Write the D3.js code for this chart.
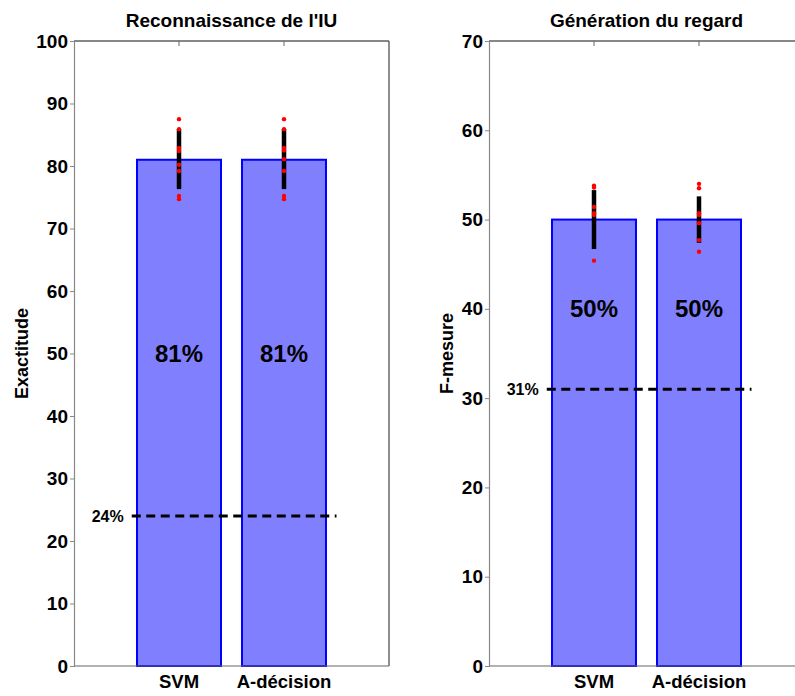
<!DOCTYPE html>
<html>
<head>
<meta charset="utf-8">
<script src="https://cdn.jsdelivr.net/npm/d3@7"></script>
<style>
  html, body { margin: 0; padding: 0; background: #fff; }
  svg { display: block; font-family: "Liberation Sans", Arial, Helvetica, sans-serif; }
</style>
</head>
<body>
<svg id="chart" width="795" height="696"></svg>
<script>
// ---------- data ----------
const categories = ["SVM", "A-décision"];

const uiTitle = "Reconnaissance de l'IU";
const uiYLabel = "Exactitude";
const uiYTicks = [0, 10, 20, 30, 40, 50, 60, 70, 80, 90, 100];
const uiMeans = [81, 81];
const uiErrLow = [76.3, 76.3];
const uiErrHigh = [85.9, 85.9];
const uiPointsSVM = [87.5, 85.9, 82.9, 82.4, 80.2, 79.2, 75.2, 74.7];
const uiPointsTree = [87.5, 85.9, 82.9, 82.5, 81.1, 79.2, 75.2, 74.7];
const uiBaseline = 24;

const gazeTitle = "Génération du regard";
const gazeYLabel = "F-mesure";
const gazeYTicks = [0, 10, 20, 30, 40, 50, 60, 70];
const gazeMeans = [50, 50];
const gazeErrLow = [46.7, 47.4];
const gazeErrHigh = [53.3, 52.6];
const gazePointsSVM = [53.8, 53.6, 51.4, 50.7, 50.5, 45.4];
const gazePointsTree = [54.0, 53.5, 50.7, 50.5, 49.6, 47.7, 46.4];
const gazeBaseline = 31;

// ---------- drawing ----------
const svg = d3.select("#chart");

function drawPanel(p) {
  const g = svg.append("g");
  const x = d3.scaleLinear().domain([0, 3]).range([p.left, p.left + 315]);
  const y = d3.scaleLinear().domain([0, p.yMax]).range([666, 41]);
  const bw = 0.8;

  // bars
  g.selectAll("rect.bar").data(p.means).enter().append("rect")
    .attr("x", (d, i) => x(i + 1 - bw / 2))
    .attr("y", d => y(d))
    .attr("width", x(bw) - x(0))
    .attr("height", d => y(0) - y(d))
    .attr("fill", "#8080ff")
    .attr("stroke", "#0000ff")
    .attr("stroke-width", 2);

  // percentage labels inside bars
  g.selectAll("text.pct").data(p.means).enter().append("text")
    .attr("x", (d, i) => x(i + 1))
    .attr("y", y(p.labelAt))
    .attr("dy", "0.36em")
    .attr("text-anchor", "middle")
    .attr("font-weight", "bold")
    .attr("font-size", 24)
    .text(d => d + "%");

  // error bars (black thick)
  g.selectAll("line.err").data(p.means).enter().append("line")
    .attr("x1", (d, i) => x(i + 1))
    .attr("x2", (d, i) => x(i + 1))
    .attr("y1", (d, i) => y(p.errLow[i]))
    .attr("y2", (d, i) => y(p.errHigh[i]))
    .attr("stroke", "#000")
    .attr("stroke-width", 4.5);

  // red points
  p.points.forEach((pts, i) => {
    g.selectAll(null).data(pts).enter().append("circle")
      .attr("cx", x(i + 1))
      .attr("cy", d => y(d))
      .attr("r", 2.2)
      .attr("fill", "#ff0000");
  });

  // baseline dashed line
  g.append("line")
    .attr("x1", x(0.55)).attr("x2", x(2.5))
    .attr("y1", y(p.baseline)).attr("y2", y(p.baseline))
    .attr("stroke", "#000")
    .attr("stroke-width", 3)
    .attr("stroke-dasharray", "9,5.5");
  g.append("text")
    .attr("x", x(0.55) - 8)
    .attr("y", y(p.baseline))
    .attr("dy", "0.36em")
    .attr("text-anchor", "end")
    .attr("font-weight", "bold")
    .attr("font-size", 16)
    .text(p.baseline + "%");

  // box frame
  g.append("line").attr("x1", x(0)).attr("x2", x(3)).attr("y1", y(p.yMax)).attr("y2", y(p.yMax))
    .attr("stroke", "#111").attr("stroke-width", 1.2);
  g.append("line").attr("x1", x(3)).attr("x2", x(3)).attr("y1", y(p.yMax)).attr("y2", y(0))
    .attr("stroke", "#444").attr("stroke-width", 1.2);
  g.append("line").attr("x1", x(0)).attr("x2", x(3)).attr("y1", y(0)).attr("y2", y(0))
    .attr("stroke", "#666").attr("stroke-width", 1.2);
  // top ticks at bar centres
  g.selectAll("line.tt").data(categories).enter().append("line")
    .attr("x1", (d, i) => x(i + 1)).attr("x2", (d, i) => x(i + 1))
    .attr("y1", y(p.yMax)).attr("y2", y(p.yMax) + 5)
    .attr("stroke", "#666");

  // y axis
  const yAxis = d3.axisLeft(y).tickValues(p.yTicks).tickSize(4).tickPadding(2);
  const ya = g.append("g").attr("transform", `translate(${x(0)},0)`).call(yAxis);
  ya.select(".domain").attr("stroke", "#888").attr("stroke-width", 1.2);
  ya.selectAll(".tick line").attr("stroke", "#888");
  ya.selectAll(".tick text").attr("font-size", 19).attr("font-weight", "bold")
    .attr("font-family", "Liberation Sans, Arial, sans-serif").attr("fill", "#000");

  // x category labels
  g.selectAll("text.cat").data(categories).enter().append("text")
    .attr("x", (d, i) => x(i + 1))
    .attr("y", 688)
    .attr("text-anchor", "middle")
    .attr("font-weight", "bold")
    .attr("font-size", 18.5)
    .text(d => d);

  // title
  g.append("text")
    .attr("x", p.left + 157.5)
    .attr("y", 27)
    .attr("text-anchor", "middle")
    .attr("font-weight", "bold")
    .attr("font-size", 19)
    .text(p.title);

  // y label
  g.append("text")
    .attr("transform", `translate(${p.yLabelX},${(41 + 666) / 2}) rotate(-90)`)
    .attr("text-anchor", "middle")
    .attr("font-weight", "bold")
    .attr("font-size", 18)
    .text(p.yLabel);
}

drawPanel({
  left: 74, yMax: 100, yTicks: uiYTicks, means: uiMeans,
  errLow: uiErrLow, errHigh: uiErrHigh, points: [uiPointsSVM, uiPointsTree],
  baseline: uiBaseline, labelAt: 50, title: uiTitle, yLabel: uiYLabel, yLabelX: 28
});
drawPanel({
  left: 489, yMax: 70, yTicks: gazeYTicks, means: gazeMeans,
  errLow: gazeErrLow, errHigh: gazeErrHigh, points: [gazePointsSVM, gazePointsTree],
  baseline: gazeBaseline, labelAt: 40, title: gazeTitle, yLabel: gazeYLabel, yLabelX: 453
});
</script>
</body>
</html>
